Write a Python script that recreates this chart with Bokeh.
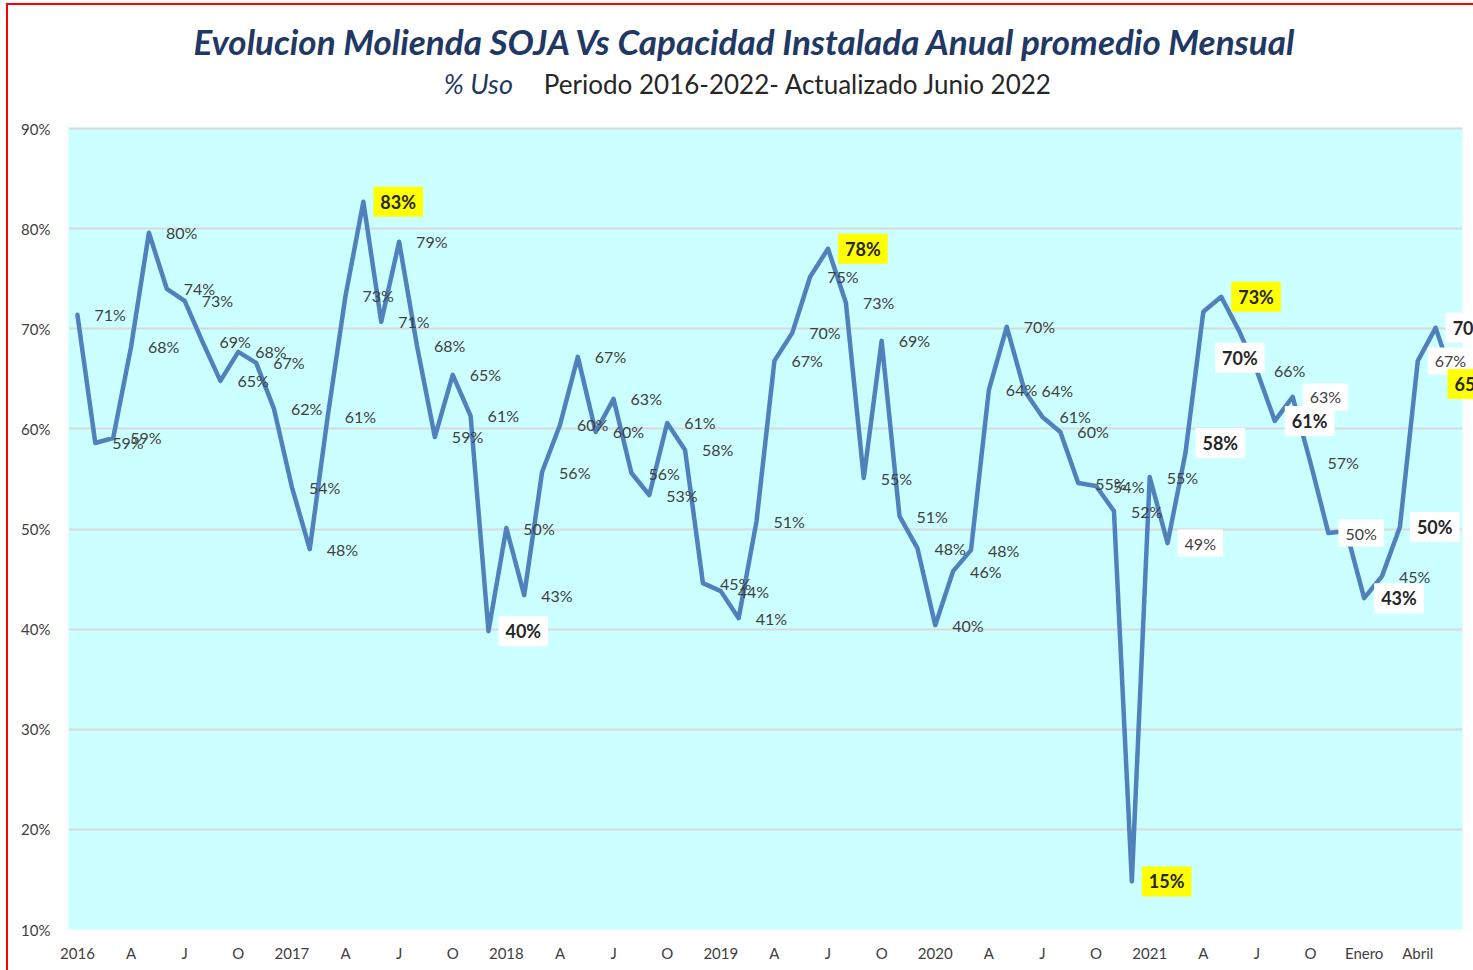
from bokeh.plotting import figure
from bokeh.models import FixedTicker, PrintfTickFormatter, ColumnDataSource, Range1d
from bokeh.core.properties import value
from bokeh.embed import file_html
from bokeh.resources import INLINE

# ---------------- data ----------------
tick_labels = ["2016", "A", "J", "O", "2017", "A", "J", "O", "2018", "A", "J", "O",
               "2019", "A", "J", "O", "2020", "A", "J", "O", "2021", "A", "J", "O",
               "Enero", "Abril"]

uso_2016 = [71.4, 58.6, 59.1, 68.2, 79.6, 74.0, 72.8, 68.7, 64.8, 67.7, 66.6, 62.0]
uso_2017 = [54.2, 48.0, 61.2, 73.3, 82.7, 70.7, 78.7, 68.3, 59.2, 65.4, 61.3, 39.8]
uso_2018 = [50.1, 43.4, 55.7, 60.4, 67.2, 59.7, 63.0, 55.6, 53.4, 60.6, 57.9, 44.6]
uso_2019 = [43.8, 41.1, 50.8, 66.8, 69.6, 75.2, 78.0, 72.6, 55.1, 68.8, 51.3, 48.1]
uso_2020 = [40.4, 45.8, 47.9, 63.9, 70.2, 63.8, 61.2, 59.7, 54.6, 54.3, 51.8, 14.8]
uso_2021 = [55.2, 48.6, 57.6, 71.7, 73.2, 69.8, 65.8, 60.8, 63.2, 56.6, 49.6, 49.8]
uso_2022 = [43.1, 45.3, 50.2, 66.8, 70.1, 64.8]

uso = uso_2016 + uso_2017 + uso_2018 + uso_2019 + uso_2020 + uso_2021 + uso_2022
n = len(uso)
xs = list(range(n))
labels = [f"{round(v)}%" for v in uso]

title_text = "Evolucion Molienda  SOJA Vs Capacidad Instalada Anual promedio Mensual"
sub_a = "% Uso"
sub_b = "Periodo  2016-2022-  Actualizado Junio 2022"

# label styling groups (indices into the series)
yellow_idx = [16, 42, 59, 64, 77]
bold_box_idx = [23, 62, 65, 67, 72, 74, 76]
plain_box_idx = [61, 68, 70, 75]
hidden_idx = [63, 71]
custom_offsets = {62: (10, -10), 65: (-24, 27), 77: (-6, 3)}

NAVY = "#1F3864"
FONT = "Lato"
Y_TOP = 102.3          # room above the 90% line for the titles
X_END = n - 0.5 + 0.73  # small cropped strip on the right

p = figure(width=1465, height=965,
           x_range=Range1d(-0.5, X_END), y_range=Range1d(10, Y_TOP),
           output_backend="svg", toolbar_location=None,
           min_border_left=60, min_border_right=0, min_border_top=0, min_border_bottom=43,
           background_fill_color="#CCFFFF", border_fill_color="white",
           outline_line_color=None)
p.styles = {"margin-left": "6px", "margin-top": "3px",
            "border-left": "2px solid #FF0000", "border-top": "2px solid #FF0000",
            "box-sizing": "content-box"}

# axes
p.xaxis.ticker = FixedTicker(ticks=list(range(0, n, 3)))
p.xaxis.major_label_overrides = {i * 3: t for i, t in enumerate(tick_labels)}
p.yaxis.ticker = FixedTicker(ticks=list(range(10, 91, 10)))
p.yaxis.formatter = PrintfTickFormatter(format="%d%%")
for ax in (p.xaxis[0], p.yaxis[0]):
    ax.axis_line_color = None
    ax.major_tick_line_color = None
    ax.minor_tick_line_color = None
    ax.major_tick_out = 0
    ax.major_tick_in = 0
    ax.major_label_text_font = FONT
    ax.major_label_text_font_size = "15px"
    ax.major_label_text_color = "#404040"
p.xaxis.major_label_standoff = 14
p.yaxis.major_label_standoff = 18

p.xgrid.visible = False
p.ygrid.grid_line_color = "#D9D9D9"
p.ygrid.grid_line_width = 2

# white areas: title band above the plot area and cropped strip on the right
p.quad(left=[-1, n - 0.5], right=[n + 3, n + 3], bottom=[90.15, 0], top=[Y_TOP + 5, Y_TOP + 5],
       fill_color="white", line_color=None)

# series line
p.line(xs, uso, line_color="#4F81BD", line_width=4.5, line_join="round", line_cap="round")

# data labels
special = set(yellow_idx) | set(bold_box_idx) | set(plain_box_idx) | set(hidden_idx)
normal_idx = [i for i in range(n) if i not in special]


def add_labels(idx, bold, bg, size, color):
    default = (17, 0) if bg is None else (10, 0)
    xo = [custom_offsets.get(i, default)[0] for i in idx]
    yo = [custom_offsets.get(i, default)[1] for i in idx]
    src = ColumnDataSource(dict(x=[xs[i] for i in idx], y=[uso[i] for i in idx],
                                t=[labels[i] for i in idx], xo=xo, yo=yo))
    kw = dict(source=src, text="t", x_offset="xo", y_offset="yo",
              text_font=value(FONT), text_font_size=size,
              text_font_style="bold" if bold else "normal",
              text_color=color, text_align="left", text_baseline="middle")
    if bg is not None:
        kw.update(background_fill_color=bg,
                  padding=dict(left=7, right=7, top=4, bottom=4))
    p.text(x="x", y="y", **kw)


add_labels(normal_idx, False, None, "16px", "#404040")
add_labels(plain_box_idx, False, "white", "16px", "#404040")
add_labels(bold_box_idx, True, "white", "18px", "#262626")
add_labels(yellow_idx, True, "#FFFF00", "18px", "#262626")

# titles
p.text(x=[37.6], y=[98.8], text=[title_text], text_align="center", text_baseline="middle",
       text_font=value(FONT), text_font_size="35px", text_font_style="bold italic",
       text_color=NAVY)
p.text(x=[20.5], y=[94.5], text=[sub_a], text_align="left", text_baseline="middle",
       text_font=value(FONT), text_font_size="27px", text_font_style="italic",
       text_color=NAVY)
p.text(x=[26.1], y=[94.5], text=[sub_b], text_align="left", text_baseline="middle",
       text_font=value(FONT), text_font_size="26px", text_font_style="normal",
       text_color="#262626")

open("out.html", "w").write(file_html(p, INLINE))
